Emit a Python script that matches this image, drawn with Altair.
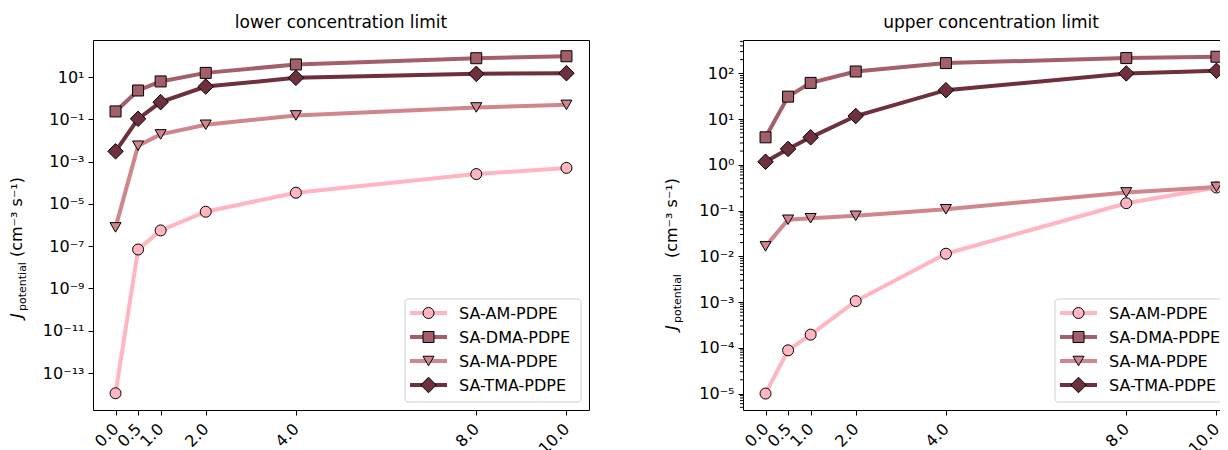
import altair as alt
import pandas as pd

# ---------------- data ----------------
x_vals = [0.0, 0.5, 1.0, 2.0, 4.0, 8.0, 10.0]
series = ["SA-AM-PDPE", "SA-DMA-PDPE", "SA-MA-PDPE", "SA-TMA-PDPE"]
colors = ["#FFB6C1", "#A3606B", "#CF868C", "#6E303C"]
shapes = ["circle", "square", "triangle-down", "diamond"]
marker_sizes = [121, 121, 121, 240]

lower_am = [1.1e-14, 7e-8, 5.6e-7, 4.3e-6, 3.4e-5, 2.6e-4, 5.1e-4]
lower_dma = [0.24, 2.35, 6.3, 16, 40, 79, 98]
lower_ma = [7.8e-7, 5.7e-3, 0.0196, 0.056, 0.155, 0.37, 0.49]
lower_tma = [3.1e-3, 0.107, 0.66, 3.6, 9.3, 14.4, 15.5]

upper_am = [1e-5, 8.8e-5, 1.94e-4, 1.05e-3, 0.0114, 0.145, 0.32]
upper_dma = [4.0, 31, 62, 110, 168, 216, 231]
upper_ma = [0.0165, 0.063, 0.068, 0.077, 0.107, 0.25, 0.33]
upper_tma = [1.17, 2.23, 4.0, 11.7, 43, 100, 114]

lower_major_exp = [-13, -11, -9, -7, -5, -3, -1, 1]
upper_major_exp = [-5, -4, -3, -2, -1, 0, 1, 2]

FONT = "DejaVu Sans"
W, H = 496, 370
SUP = str.maketrans("-0123456789", "⁻⁰¹²³⁴⁵⁶⁷⁸⁹")


def label_expr(exps):
    expr = "''"
    for e in reversed(exps):
        expr = f"round(log(datum.value)/LN10) == {e} ? '10{str(e).translate(SUP)}' : ({expr})"
    return expr


one = pd.DataFrame({"a": [0]})


def panel(title, values, ydomain, major_exp, minor, ytitle):
    rows = []
    for s, vals in zip(series, values):
        for xv, yv in zip(x_vals, vals):
            rows.append({"x": xv, "y": yv, "series": s})
    df = pd.DataFrame(rows)
    yscale = alt.Scale(type="log", domain=ydomain, nice=False)
    x_enc = alt.X(
        "x:Q",
        scale=alt.Scale(domain=[-0.5, 10.5], nice=False, zero=False),
        axis=alt.Axis(
            values=x_vals, labelExpr="format(datum.value, '.1f')",
            labelAngle=315, labelAlign="right", labelBaseline="middle",
            labelPadding=11, labelFontSize=16, labelFont=FONT, labelColor="black",
            tickSize=5, tickColor="black", domain=False, grid=False, title=None,
            labelFlush=False, labelOverlap=False,
        ),
    )
    y_axis = alt.Axis(
        values=[10.0 ** e for e in major_exp], labelExpr=label_expr(major_exp),
        labelFontSize=16, labelFont=FONT, labelColor="black", labelPadding=4,
        tickSize=5, tickColor="black", domain=False, grid=False, title=None,
        labelFlush=False, labelOverlap=False,
    )
    y_enc = alt.Y("y:Q", scale=yscale, axis=y_axis)
    layers = []
    base = alt.Chart(df)
    for i, s in enumerate(series):
        sub = base.transform_filter(alt.datum.series == s)
        layers.append(sub.mark_line(color=colors[i], strokeWidth=4).encode(x=x_enc, y=y_enc))
        layers.append(
            sub.mark_point(shape=shapes[i], size=marker_sizes[i], filled=True, fill=colors[i],
                           stroke="black", strokeWidth=1, opacity=1).encode(x=x_enc, y=y_enc)
        )
    if minor:
        layers.append(
            alt.Chart(pd.DataFrame({"y": minor})).mark_rule(color="black", strokeWidth=1).encode(
                y=y_enc, x=alt.value(-3), x2=alt.value(0)
            )
        )
    # legend
    lx0, lx1, ly0, ly1 = 312, 488, 259, 362
    layers.append(
        alt.Chart(one).mark_rect(fill="white", fillOpacity=0.8, stroke="#d0d0d0", strokeWidth=1,
                                 cornerRadius=3).encode(
            x=alt.value(lx0), x2=alt.value(lx1), y=alt.value(ly0), y2=alt.value(ly1))
    )
    for i, s in enumerate(series):
        ry = 273 + 24 * i
        layers.append(alt.Chart(one).mark_rule(color=colors[i], strokeWidth=4).encode(
            x=alt.value(317), x2=alt.value(354), y=alt.value(ry)))
        layers.append(alt.Chart(one).mark_point(shape=shapes[i], size=marker_sizes[i], filled=True,
                                                fill=colors[i], stroke="black", strokeWidth=1,
                                                opacity=1).encode(x=alt.value(335.5), y=alt.value(ry)))
        layers.append(alt.Chart(one).mark_text(text=s, font=FONT, fontSize=16, align="left",
                                               baseline="middle", color="black").encode(
            x=alt.value(366), y=alt.value(ry + 1)))
    # title
    layers.append(alt.Chart(one).mark_text(text=title, font=FONT, fontSize=17, align="center",
                                           baseline="alphabetic", color="black").encode(
        x=alt.value(W / 2), y=alt.value(-12)))
    # y title pieces
    for txt, bx, by, fs, style in ytitle:
        layers.append(alt.Chart(one).mark_text(text=txt, font=FONT, fontSize=fs, angle=270,
                                               align="left", baseline="alphabetic", color="black",
                                               fontStyle=style).encode(
            x=alt.value(bx), y=alt.value(by)))
    return alt.layer(*layers).properties(width=W, height=H)


upper_minor = [m * 10.0 ** e for e in range(-6, 3) for m in range(2, 10)]
upper_minor = [v for v in upper_minor if 10 ** -5.36 <= v <= 10 ** 2.73]

left = panel(
    "lower concentration limit",
    [lower_am, lower_dma, lower_ma, lower_tma],
    [10 ** -14.75, 10 ** 2.76], lower_major_exp, None,
    [("J", -71, 278, 16, "italic"), ("potential", -67, 271, 11, "normal"),
     ("(cm⁻³ s⁻¹)", -71, 217, 16, "normal")],
)
right = panel(
    "upper concentration limit",
    [upper_am, upper_dma, upper_ma, upper_tma],
    [10 ** -5.36, 10 ** 2.73], upper_major_exp, upper_minor,
    [("J", -66, 290, 16, "italic"), ("potential", -62, 283, 11, "normal"),
     ("(cm⁻³ s⁻¹)", -66, 218, 16, "normal")],
)

chart = alt.hconcat(left, right, spacing=73).properties(
    padding={"left": 0, "top": 5, "right": -20, "bottom": 0}
).configure_view(stroke="black", strokeWidth=1)

chart.save("out.html", embed_options={"renderer": "svg", "actions": False})
